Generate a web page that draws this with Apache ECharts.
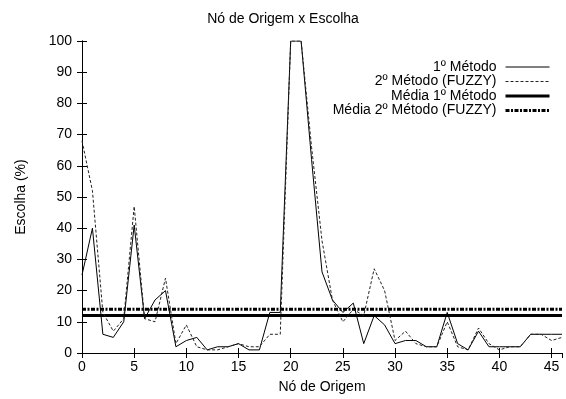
<!DOCTYPE html>
<html>
<head>
<meta charset="utf-8">
<script src="https://cdn.jsdelivr.net/npm/echarts@6/dist/echarts.min.js"></script>
<style>
  html, body { margin: 0; padding: 0; background: #fff; }
  #chart { width: 566px; height: 399px; }
</style>
</head>
<body>
<div id="chart"></div>
<script>
// Nó de Origem 0..46
const nodes = Array.from({ length: 47 }, (_, i) => i);

// 1º Método (%)
const metodo1 = [25, 40, 6, 5, 10, 41, 11, 17, 20, 2, 4, 5, 1, 2, 2, 3, 1, 1, 13, 13,
  100, 100, 62, 26, 17, 13, 16, 3, 12, 9, 3, 4, 4, 2, 2, 13, 3, 1, 7, 2, 2, 2, 2, 6, 6, 6, 6];

// 2º Método (FUZZY) (%)
const metodo2 = [68, 52, 13, 7, 11, 47, 11, 10, 24, 3, 9, 2, 1, 1, 2, 3, 2, 2, 6, 6,
  100, 100, 66, 36, 17, 10, 14, 12, 27, 20, 4, 7, 3, 2, 2, 10, 2, 1, 8, 3, 1, 2, 2, 6, 6, 4, 5];

// médias
const media1 = 12;
const media2 = 14;

const xTicks = [0, 5, 10, 15, 20, 25, 30, 35, 40, 45];
const yTicks = [0, 10, 20, 30, 40, 50, 60, 70, 80, 90, 100];

const font = 'Liberation Sans, Arial, sans-serif';

const chart = echarts.init(document.getElementById('chart'));

const pairs = (arr) => nodes.map((n, i) => [n, arr[i]]);
const flat = (v) => [[0, v], [46, v]];

const baseAxis = {
  axisLine: { show: true, lineStyle: { color: '#000', width: 1 } },
  axisTick: { show: true, inside: true, length: 5, lineStyle: { color: '#000' } },
  splitLine: { show: false },
};

chart.setOption({
  animation: false,
  backgroundColor: '#fff',
  textStyle: { fontFamily: font },
  title: {
    text: 'Nó de Origem x Escolha',
    left: 'center',
    top: 7,
    textStyle: { fontFamily: font, fontSize: 14, fontWeight: 'normal', color: '#000' },
  },
  grid: { left: 82, right: 4, top: 41, bottom: 43 },
  legend: {
    orient: 'vertical',
    align: 'right',
    right: 10,
    top: 55,
    itemWidth: 44,
    itemHeight: 13,
    itemGap: 0.5,
    selectedMode: false,
    itemStyle: { opacity: 0 },
    lineStyle: { width: 'inherit' },
    textStyle: { fontFamily: font, fontSize: 14, color: '#000', padding: [0, 4, 0, 0] },
    data: ['1º Método', '2º Método (FUZZY)', 'Média 1º Método', 'Média 2º Método (FUZZY)'],
  },
  xAxis: [
    {
      ...baseAxis,
      type: 'value',
      min: 0,
      max: 46,
      interval: 5,
      name: 'Nó de Origem',
      nameLocation: 'middle',
      nameGap: 27,
      nameTextStyle: { fontFamily: font, fontSize: 14, color: '#000' },
      axisLabel: {
        fontFamily: font, fontSize: 14, color: '#000', margin: 7,
        showMaxLabel: false,
        formatter: (v) => (xTicks.includes(v) ? String(v) : ''),
      },
    },
    {
      ...baseAxis,
      type: 'value',
      position: 'top',
      min: 0,
      max: 46,
      interval: 5,
      axisLabel: { show: false },
    },
  ],
  yAxis: [
    {
      ...baseAxis,
      type: 'value',
      min: 0,
      max: 100,
      interval: 10,
      name: 'Escolha (%)',
      nameLocation: 'middle',
      nameGap: 54,
      nameTextStyle: { fontFamily: font, fontSize: 14, color: '#000' },
      axisLabel: {
        fontFamily: font, fontSize: 14, color: '#000', margin: 10,
        formatter: (v) => (yTicks.includes(v) ? String(v) : ''),
      },
    },
    {
      ...baseAxis,
      type: 'value',
      position: 'right',
      min: 0,
      max: 100,
      interval: 10,
      axisLabel: { show: false },
    },
  ],
  series: [
    {
      name: '1º Método',
      type: 'line',
      symbol: 'none',
      data: pairs(metodo1),
      lineStyle: { color: '#000', width: 1 },
      itemStyle: { color: '#000' },
      z: 3,
    },
    {
      name: '2º Método (FUZZY)',
      type: 'line',
      symbol: 'none',
      data: pairs(metodo2),
      lineStyle: { color: '#222', width: 1, type: [3, 2] },
      itemStyle: { color: '#222' },
      z: 3,
    },
    {
      name: 'Média 1º Método',
      type: 'line',
      symbol: 'none',
      data: flat(media1),
      lineStyle: { color: '#000', width: 3 },
      itemStyle: { color: '#000' },
      z: 2,
    },
    {
      name: 'Média 2º Método (FUZZY)',
      type: 'line',
      symbol: 'none',
      data: flat(media2),
      lineStyle: { color: '#000', width: 3, type: [4, 1.5, 2, 1.5] },
      itemStyle: { color: '#000' },
      z: 2,
    },
  ],
});
</script>
</body>
</html>
